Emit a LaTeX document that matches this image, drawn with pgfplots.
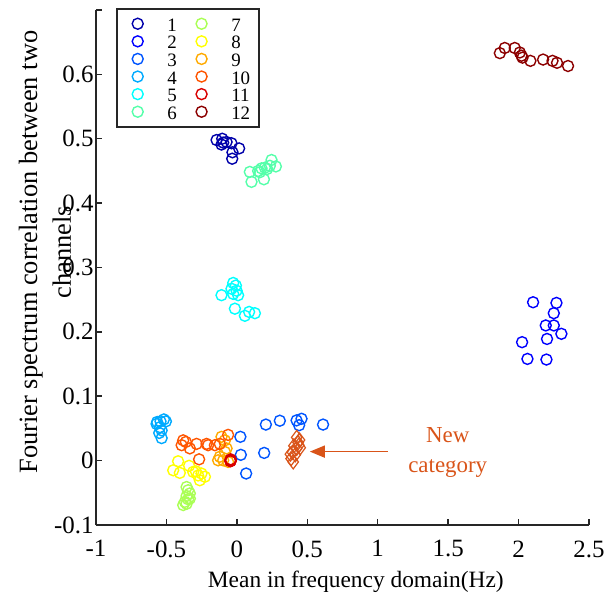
\documentclass[border=0pt]{standalone}
\usepackage{fontspec}
\setmainfont{Liberation Serif}
\usepackage{pgfplots}
\pgfplotsset{compat=1.18}
\usetikzlibrary{arrows.meta}
\definecolor{c1}{rgb}{0,0,0.667}
\definecolor{c2}{rgb}{0,0,1}
\definecolor{c3}{rgb}{0,0.333,1}
\definecolor{c4}{rgb}{0,0.667,1}
\definecolor{c5}{rgb}{0,1,1}
\definecolor{c6}{rgb}{0.333,1,0.667}
\definecolor{c7}{rgb}{0.667,1,0.333}
\definecolor{c8}{rgb}{1,1,0}
\definecolor{c9}{rgb}{1,0.667,0}
\definecolor{c10}{rgb}{1,0.333,0}
\definecolor{c11}{rgb}{0.85,0,0}
\definecolor{c12}{rgb}{0.55,0,0}
\definecolor{newc}{rgb}{0.85,0.33,0.1}
\definecolor{axc}{rgb}{0.15,0.15,0.15}
\pgfplotsset{cls/.style={only marks, mark=o, mark size=5.5bp, line width=1.4bp, color=#1}}
\begin{document}
\begin{tikzpicture}
\path[use as bounding box] (-96bp,-73bp) rectangle (518bp,525bp);
\begin{axis}[
  at={(0,0)}, anchor=south west,
  scale only axis, width=493bp, height=515bp,
  xmin=-1, xmax=2.5, ymin=-0.1, ymax=0.7,
  axis x line*=bottom, axis y line*=left,
  xtick={-1,-0.5,0,0.5,1,1.5,2,2.5},
  xticklabels={\textrm{-1},\textrm{-0.5},\textrm{0},\textrm{0.5},\textrm{1},\textrm{1.5},\textrm{2},\textrm{2.5}},
  ytick={-0.1,0,0.1,0.2,0.3,0.4,0.5,0.6,0.7},
  yticklabels={\textrm{-0.1},\textrm{0},\textrm{0.1},\textrm{0.2},\textrm{0.3},\textrm{0.4},\textrm{0.5},\textrm{0.6},{}},
  tick align=inside, major tick length=6bp,
  axis line style={line width=1.5bp, color=axc},
  tick style={line width=1.5bp, color=axc},
  ticklabel style={font=\fontsize{25}{30}\selectfont},
  xticklabel style={yshift=-12bp},
  yticklabel style={xshift=1bp},
  xlabel={Mean in frequency domain(Hz)},
  xlabel style={at={(axis description cs:0.527,-0.1223)}, anchor=base, font=\fontsize{23.5}{28}\selectfont},
  ylabel={Fourier spectrum correlation between two\\channels},
  ylabel style={at={(axis description cs:-0.1034,0.53)}, anchor=center, align=center, font=\fontsize{26.5}{34}\selectfont},
  legend columns=2,
  legend cell align=left,
  legend image code/.code={\path (-15bp,0bp) (15bp,0bp); \draw[#1] plot coordinates {(0bp,0bp)};},
  legend style={at={(axis description cs:0.0406,1.004)}, anchor=north west,
    draw=axc, line width=2bp, inner xsep=5bp, inner ysep=6bp,
    font=\fontsize{19}{19}\selectfont,
    nodes={inner xsep=4bp, inner ysep=0bp, text height=16.3bp, text depth=1.3bp},
    row sep=0bp,
    /tikz/every odd column/.append style={column sep=10bp},
    /tikz/every even column/.append style={column sep=5bp}},
]
% class 1
\addplot[cls=c1, forget plot] coordinates {(-0.144,0.498) (-0.104,0.500) (-0.097,0.494) (-0.073,0.495) (-0.038,0.493) (0.016,0.485) (-0.031,0.479) (-0.033,0.469) (-0.109,0.491)};
% class 2
\addplot[cls=c2, forget plot] coordinates {(2.103,0.246) (2.269,0.245) (2.250,0.229) (2.193,0.210) (2.250,0.210) (2.304,0.197) (2.202,0.189) (2.025,0.184) (2.063,0.158) (2.198,0.157)};
% class 3
\addplot[cls=c3, forget plot] coordinates {(0.206,0.056) (0.305,0.062) (0.424,0.0625) (0.459,0.065) (0.442,0.055) (0.612,0.056) (0.194,0.012) (0.025,0.037) (0.028,0.009) (0.066,-0.020)};
% class 4
\addplot[cls=c4, forget plot] coordinates {(-0.570,0.057) (-0.542,0.061) (-0.518,0.064) (-0.504,0.061) (-0.546,0.052) (-0.534,0.047) (-0.551,0.043) (-0.534,0.035) (-0.566,0.060)};
% class 5
\addplot[cls=c5, forget plot] coordinates {(-0.109,0.257) (-0.026,0.276) (-0.007,0.272) (-0.038,0.267) (-0.026,0.259) (0.009,0.257) (-0.014,0.236) (0.057,0.225) (0.087,0.231) (0.128,0.229) (-0.002,0.264)};
% class 6
\addplot[cls=c6, forget plot] coordinates {(0.092,0.4485) (0.104,0.433) (0.151,0.450) (0.175,0.454) (0.199,0.455) (0.215,0.453) (0.246,0.467) (0.277,0.457) (0.192,0.437) (0.163,0.448) (0.234,0.458)};
% class 7
\addplot[cls=c7, forget plot] coordinates {(-0.357,-0.041) (-0.346,-0.046) (-0.334,-0.051) (-0.357,-0.055) (-0.346,-0.060) (-0.369,-0.064) (-0.334,-0.059) (-0.381,-0.069) (-0.357,-0.067)};
% class 8
\addplot[cls=c8, forget plot] coordinates {(-0.417,-0.001) (-0.452,-0.015) (-0.405,-0.019) (-0.339,-0.008) (-0.310,-0.0175) (-0.275,-0.023) (-0.227,-0.025) (-0.263,-0.0305) (-0.291,-0.0166) (-0.251,-0.020)};
% class 9
\addplot[cls=c9, forget plot] coordinates {(-0.109,0.037) (-0.085,0.0315) (-0.073,0.019) (-0.121,0.006) (-0.097,0.0005) (-0.062,-0.002) (-0.133,0.0005) (-0.085,0.0135)};
% class 10
\addplot[cls=c10, forget plot] coordinates {(-0.381,0.0315) (-0.392,0.024) (-0.334,0.019) (-0.286,0.026) (-0.215,0.026) (-0.204,0.024) (-0.156,0.024) (-0.121,0.026) (-0.062,0.040) (-0.268,0.002) (-0.362,0.029)};
% class 11
\addplot[cls=c11, forget plot] coordinates {(-0.045,0.001) (-0.043,0.000) (-0.046,-0.001) (-0.044,0.002) (-0.045,-0.0005)};
% class 12
\addplot[cls=c12, forget plot] coordinates {(1.867,0.633) (1.902,0.641) (1.973,0.641) (2.009,0.634) (2.028,0.626) (2.084,0.621) (2.174,0.623) (2.241,0.621) (2.273,0.618) (2.351,0.613) (2.021,0.629)};
% new category
\addplot[only marks, mark=diamond, mark size=7bp, line width=1.2bp, color=newc, forget plot] coordinates {(0.425,0.036) (0.445,0.032) (0.435,0.028) (0.405,0.023) (0.425,0.019) (0.395,0.013) (0.415,0.009) (0.385,0.003) (0.400,-0.002) (0.440,0.024) (0.380,0.010) (0.450,0.020)};
% legend
\addlegendimage{cls=c1}\addlegendentry{1}
\addlegendimage{cls=c7}\addlegendentry{7}
\addlegendimage{cls=c2}\addlegendentry{2}
\addlegendimage{cls=c8}\addlegendentry{8}
\addlegendimage{cls=c3}\addlegendentry{3}
\addlegendimage{cls=c9}\addlegendentry{9}
\addlegendimage{cls=c4}\addlegendentry{4}
\addlegendimage{cls=c10}\addlegendentry{10}
\addlegendimage{cls=c5}\addlegendentry{5}
\addlegendimage{cls=c11}\addlegendentry{11}
\addlegendimage{cls=c6}\addlegendentry{6}
\addlegendimage{cls=c12}\addlegendentry{12}
\draw[-{Triangle[length=15bp,width=12bp]}, line width=1.5bp, color=newc] (axis cs:1.072,0.014) -- (axis cs:0.518,0.014);
\node[align=center, text=newc, font=\fontsize{23}{30}\selectfont] at (axis cs:1.497,0.012) {New\\category};
\end{axis}
\end{tikzpicture}
\end{document}
